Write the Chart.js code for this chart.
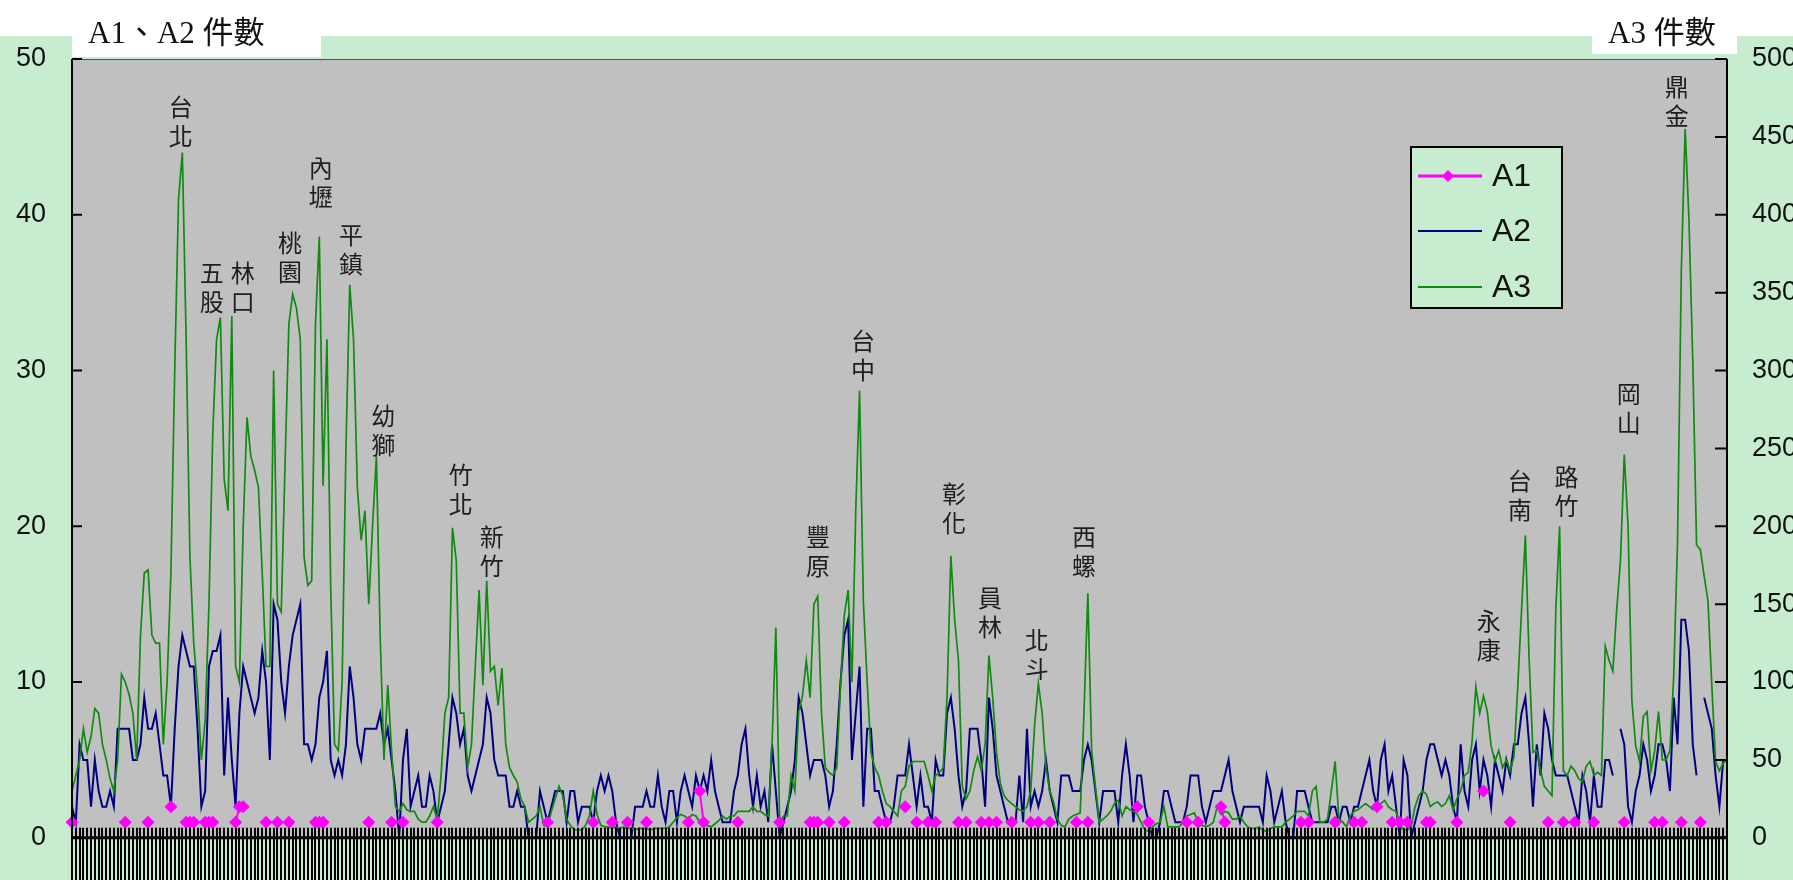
<!DOCTYPE html>
<html>
<head>
<meta charset="utf-8">
<title>A1 A2 A3</title>
<script src="https://cdn.jsdelivr.net/npm/chart.js@4.4.0/dist/chart.umd.min.js"></script>
<style>
  html, body { margin: 0; padding: 0; background: #c8ecd0; }
  #wrap { width: 1793px; height: 880px; }
</style>
</head>
<body>
<div id="wrap"><canvas id="chart" width="1793" height="880"></canvas></div>
<script>
// =============================================
// DATA (one value per station)
// =============================================

// A3 counts, right axis (0-500)
const A3 = [
  30,40,50,70,55,65,83,80,60,50,38,30,50,105,100,92,80,50,130,170,
  172,130,125,125,60,100,170,300,410,440,320,180,125,95,50,75,150,260,320,334,
  230,210,335,110,100,200,270,245,236,225,170,110,110,300,150,145,240,330,349,340,
  320,180,162,165,330,386,226,320,160,60,56,100,250,355,320,225,191,210,150,200,
  245,130,50,98,56,20,17,22,18,17,17,12,10,10,14,20,12,40,80,90,
  199,178,80,80,45,60,110,159,98,165,107,110,85,109,60,45,40,36,25,20,
  10,12,14,20,8,7,17,25,33,27,12,8,5,5,5,8,14,30,15,8,
  7,7,6,7,6,7,6,6,5,6,6,6,5,6,6,6,6,7,10,13,
  15,14,12,15,14,10,8,8,7,9,11,14,12,14,14,17,17,17,17,20,
  17,17,15,14,60,135,10,14,14,40,30,81,91,114,90,150,155,80,45,42,
  40,45,98,143,159,100,210,287,152,100,55,45,40,30,22,20,17,14,30,33,
  46,49,49,49,49,40,30,40,42,45,91,181,140,114,33,25,30,43,52,43,
  60,117,90,55,35,27,24,22,20,18,17,20,30,72,99,80,45,30,23,12,
  8,7,12,14,15,16,81,157,56,33,10,12,14,17,22,24,14,20,18,17,
  15,10,5,4,7,9,10,20,7,7,7,7,10,14,15,16,10,8,7,8,
  10,20,15,17,16,12,12,14,10,7,6,6,7,5,4,6,7,7,7,10,
  12,14,17,17,17,14,30,33,10,10,12,30,49,12,10,7,14,17,18,20,
  22,20,18,20,22,24,20,18,17,8,5,5,8,20,27,30,28,20,22,23,
  20,22,27,18,25,30,40,42,62,97,80,91,81,59,49,56,45,50,43,52,
  97,146,194,114,55,56,43,33,30,27,146,200,43,40,46,43,38,36,46,49,
  40,42,40,123,114,107,146,178,246,200,88,59,49,78,81,43,56,81,50,50,
  56,104,190,365,455,397,307,188,185,168,152,98,49,43,48,50
];

// A2 counts, left axis (0-50); null = no value
const A2 = [
  2,1,6,5,5,2,5,3,2,2,3,2,7,7,7,7,5,5,6,9,
  7,7,8,6,4,4,2,7,11,13,12,11,11,7,2,3,11,12,12,13,
  4,9,5,2,8,11,10,9,8,9,12,10,5,15,14,10,8,11,13,14,
  15,6,6,5,6,9,10,12,5,4,5,4,6,11,9,6,5,7,7,7,
  7,8,6,7,5,3,0,5,7,2,3,4,2,2,4,3,1,2,3,6,
  9,8,6,7,4,3,4,5,6,9,8,5,4,4,4,2,2,3,2,2,
  0,0,0,3,2,1,2,3,3,3,1,3,3,1,2,2,2,1,3,4,
  3,4,3,1,0,0,0,0,2,2,2,3,2,2,4,2,1,3,3,1,
  3,4,3,2,4,3,4,3,5,3,2,1,1,1,3,4,6,7,4,2,
  4,2,3,1,6,3,0,1,2,3,5,9,8,6,4,5,5,5,4,2,
  3,6,10,13,14,5,8,11,2,7,7,3,3,2,1,1,2,4,4,4,
  6,4,2,4,2,2,1,5,4,4,8,9,7,4,2,3,7,7,7,5,
  2,9,7,4,3,2,1,1,1,4,1,7,2,3,2,3,5,3,2,1,
  4,4,4,3,3,3,5,6,5,3,1,3,3,3,3,1,4,6,4,1,
  4,4,2,1,0,0,1,3,3,2,1,1,1,2,4,4,4,2,1,2,
  3,3,3,4,5,3,2,1,2,2,2,2,2,1,4,3,1,2,3,1,
  0,0,3,3,3,2,1,1,1,1,1,2,2,1,2,2,1,2,2,3,
  4,5,3,2,5,6,3,4,2,0,5,4,0,1,2,3,5,6,6,5,
  4,5,4,2,1,6,3,2,5,6,3,5,4,2,5,4,3,5,4,6,
  6,8,9,6,2,6,4,8,7,5,4,4,4,4,3,2,1,4,3,1,
  4,2,2,5,5,4,null,7,6,2,1,3,4,6,5,3,4,6,6,5,
  3,9,6,14,14,12,6,4,null,9,8,7,4,2,5,5
];

// A1 only appears at a few stations (everything else is empty)
const a1Index = [0,14,20,26,30,31,32,35,36,37,43,44,45,51,54,57,64,65,66,78,
  84,87,96,125,137,142,146,151,162,165,166,175,186,194,195,196,199,203,212,214,
  219,222,225,227,233,235,239,241,243,247,252,254,257,264,267,280,283,293,296,302,
  303,323,325,332,337,339,343,347,349,351,356,357,364,371,378,388,392,395,400,408,
  416,418,423,428];
const a1Value = [1,1,1,2,1,1,1,1,1,1,1,2,2,1,1,1,1,1,1,1,
  1,1,1,1,1,1,1,1,1,3,1,1,1,1,1,1,1,1,1,1,
  2,1,1,1,1,1,1,1,1,1,1,1,1,1,1,2,1,1,1,2,
  1,1,1,1,1,1,2,1,1,1,1,1,1,3,1,1,1,1,1,1,
  1,1,1,1];

// one category per station (no names shown on the axis)
const categories = A3.map((_, i) => String(i + 1));

// place-name notes: station position and the A3 level where the text starts
const peakNames = ["台北","五股","林口","桃園","內壢","平鎮","幼獅","竹北","新竹","豐原",
  "台中","彰化","員林","北斗","西螺","永康","台南","路竹","岡山","鼎金"];
const peakIndex = [28.6,36.7,44.9,57.3,65.4,73.3,81.8,102.2,110.3,196.1,
  207.9,231.8,241.3,253.6,266,372.4,380.5,392.8,409.2,421.8];
const peakLevel = [469,363,363,382,430,387,271,233,193,193,
  319,221,154,127,193,139,229,232,285,482];

// build the sparse A1 series the chart needs
const A1 = categories.map(() => null);
a1Index.forEach((idx, k) => { A1[idx] = a1Value[k]; });

// =============================================
// COLOURS AND FONTS
// =============================================
const outerGreen = "#c8ecd0";
const plotGray   = "#c0c0c0";
const cjk = '"Noto Sans CJK TC"';

// =============================================
// PLUGIN: background, plot area, axis title boxes
// =============================================
const backdrop = {
  id: "backdrop",
  beforeDraw(chart) {
    const ctx = chart.ctx;
    const a = chart.chartArea;
    ctx.save();
    ctx.fillStyle = outerGreen;
    ctx.fillRect(0, 0, chart.width, chart.height);
    ctx.fillStyle = "#ffffff";
    ctx.fillRect(0, 0, chart.width, 36);
    ctx.fillRect(a.left, 36, 249, 21);      // box behind left title
    ctx.fillRect(1592, 36, 145, 18);        // box behind right title
    ctx.fillStyle = plotGray;
    ctx.fillRect(a.left, a.top, a.right - a.left, a.bottom - a.top);

    ctx.fillStyle = "#111";
    ctx.textBaseline = "alphabetic";
    ctx.font = '31px "Liberation Serif", ' + cjk + ', serif';
    ctx.fillText("A1、A2 件數", 88, 43);
    ctx.fillText("A3 件數", 1608, 43);
    ctx.restore();
  }
};

// =============================================
// PLUGIN: axis lines, inward ticks, tick comb, place names, legend
// =============================================
const frame = {
  id: "frame",
  afterDatasetsDraw(chart) {
    const ctx = chart.ctx;
    const a = chart.chartArea;
    const xs = chart.scales.x;
    const yl = chart.scales.y;
    const yr = chart.scales.y2;

    function seg(x1, y1, x2, y2) { ctx.moveTo(x1, y1); ctx.lineTo(x2, y2); }

    ctx.save();

    // thin border on top of the plot
    ctx.strokeStyle = "#505050";
    ctx.lineWidth = 1;
    ctx.beginPath();
    seg(a.left, a.top + 0.5, a.right, a.top + 0.5);
    ctx.stroke();

    // dense comb of category ticks crossing the x axis
    ctx.strokeStyle = "#000";
    ctx.lineWidth = 2;
    ctx.beginPath();
    categories.forEach((c, i) => {
      const px = Math.round(xs.getPixelForValue(i));
      seg(px, a.bottom - 10, px, chart.height);
    });
    ctx.stroke();

    ctx.lineWidth = 3;
    ctx.beginPath();
    seg(a.left, a.bottom, a.right, a.bottom);
    ctx.stroke();

    // left and right axes with ticks pointing in
    ctx.lineWidth = 2;
    ctx.beginPath();
    seg(a.left, a.top, a.left, a.bottom);
    seg(a.right, a.top, a.right, a.bottom);
    yl.ticks.forEach(t => {
      const py = yl.getPixelForValue(t.value);
      seg(a.left, py, a.left + 10, py);
    });
    yr.ticks.forEach(t => {
      const py = yr.getPixelForValue(t.value);
      seg(a.right - 12, py, a.right, py);
    });
    ctx.stroke();

    // place names written top to bottom above their peaks
    ctx.fillStyle = "#1e1e1e";
    ctx.font = "24px " + cjk;
    ctx.textAlign = "center";
    ctx.textBaseline = "middle";
    peakNames.forEach((name, k) => {
      const px = xs.getPixelForValue(peakIndex[k]);
      const py = yr.getPixelForValue(peakLevel[k]);
      [...name].forEach((ch, j) => ctx.fillText(ch, px, py + j * 29));
    });

    // legend box
    const lx = 1411, ly = 147, lw = 151, lh = 161;
    ctx.fillStyle = outerGreen;
    ctx.fillRect(lx, ly, lw, lh);
    ctx.strokeStyle = "#000";
    ctx.lineWidth = 2;
    ctx.strokeRect(lx, ly, lw, lh);

    const rows = [
      { name: "A1", y: 176, color: "#ff00ff", width: 3, marker: true },
      { name: "A2", y: 231, color: "#000080", width: 2, marker: false },
      { name: "A3", y: 287, color: "#108a10", width: 2, marker: false }
    ];
    rows.forEach(r => {
      ctx.strokeStyle = r.color;
      ctx.lineWidth = r.width;
      ctx.beginPath();
      seg(lx + 7, r.y, lx + 71, r.y);
      ctx.stroke();
      if (r.marker) {
        ctx.fillStyle = r.color;
        ctx.beginPath();
        ctx.moveTo(lx + 37, r.y - 6);
        ctx.lineTo(lx + 43, r.y);
        ctx.lineTo(lx + 37, r.y + 6);
        ctx.lineTo(lx + 31, r.y);
        ctx.closePath();
        ctx.fill();
      }
      ctx.fillStyle = "#111";
      ctx.font = '32px "Liberation Sans", sans-serif';
      ctx.textAlign = "left";
      ctx.textBaseline = "middle";
      ctx.fillText(r.name, lx + 81, r.y + 1);
    });

    ctx.restore();
  }
};

// =============================================
// THE CHART
// =============================================
const tickFont = { family: '"Liberation Sans Narrow", "Liberation Sans", sans-serif', size: 27 };

new Chart(document.getElementById("chart"), {
  type: "line",
  data: {
    labels: categories,
    datasets: [
      {
        label: "A1",
        data: A1,
        yAxisID: "y",
        borderColor: "#ff00ff",
        backgroundColor: "#ff00ff",
        borderWidth: 2,
        pointStyle: "rectRot",
        pointRadius: 6.5,
        pointBorderWidth: 0,
        spanGaps: false,
        clip: false,
        order: 0
      },
      {
        label: "A3",
        data: A3,
        yAxisID: "y2",
        borderColor: "#108a10",
        borderWidth: 1.7,
        pointRadius: 0,
        order: 1
      },
      {
        label: "A2",
        data: A2,
        yAxisID: "y",
        borderColor: "#000080",
        borderWidth: 2,
        pointRadius: 0,
        spanGaps: false,
        order: 2
      }
    ]
  },
  options: {
    responsive: false,
    animation: false,
    layout: { padding: { top: 59, left: 0, right: 0, bottom: 0 } },
    plugins: {
      legend: { display: false },
      tooltip: { enabled: false }
    },
    elements: { line: { tension: 0 } },
    scales: {
      x: {
        type: "category",
        offset: false,
        ticks: { display: false, autoSkip: false },
        grid: { display: false, drawTicks: false },
        border: { display: false },
        afterFit(s) { s.height = 18; }
      },
      y: {
        position: "left",
        min: 0,
        max: 50,
        ticks: { stepSize: 10, padding: 26, color: "#111", font: tickFont },
        grid: { display: false, drawTicks: false },
        border: { display: false },
        afterFit(s) { s.width = 72; }
      },
      y2: {
        position: "right",
        min: 0,
        max: 500,
        ticks: { stepSize: 50, padding: 25, color: "#111", font: tickFont },
        grid: { display: false, drawTicks: false },
        border: { display: false },
        afterFit(s) { s.width = 66; }
      }
    }
  },
  plugins: [backdrop, frame]
});
</script>
</body>
</html>
